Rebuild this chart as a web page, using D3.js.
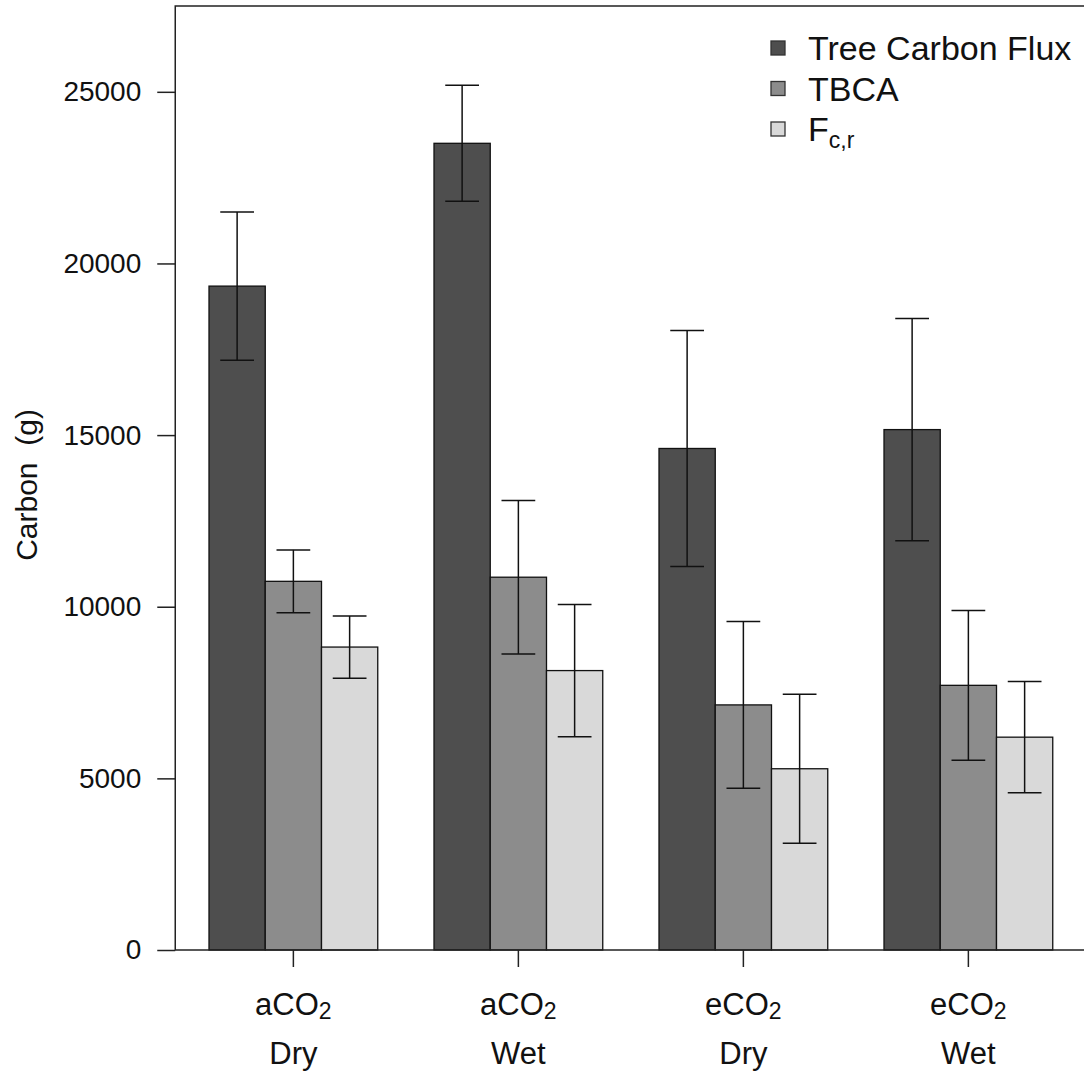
<!DOCTYPE html>
<html>
<head>
<meta charset="utf-8">
<script src="https://cdn.jsdelivr.net/npm/d3@7"></script>
<style>
  html, body { margin: 0; padding: 0; background: #fff; }
  svg { display: block; font-family: "Liberation Sans", Arial, Helvetica, sans-serif; }
</style>
</head>
<body>
<svg id="chart" width="1084" height="1074"></svg>
<script>
// Treatment groups: CO2 level prefix (line 1) and water regime (line 2)
const co2Prefix = ["a", "a", "e", "e"];
const waterRegime = ["Dry", "Wet", "Dry", "Wet"];

// Series names and colours
const seriesNames = ["Tree Carbon Flux", "TBCA", "Fc,r"];
const seriesColors = ["#4e4e4e", "#8c8c8c", "#d9d9d9"];

// Means and standard errors (g C) per treatment group
const treeFlux   = [19340, 23500, 14610, 15160];
const treeFluxSE = [2160, 1690, 3440, 3240];
const tbca       = [10740, 10860, 7140, 7710];
const tbcaSE     = [915, 2235, 2430, 2180];
const fcr        = [8825, 8140, 5280, 6200];
const fcrSE      = [905, 1925, 2170, 1620];

// Y axis ticks
const yTicks = [0, 5000, 10000, 15000, 20000, 25000];

const means = [treeFlux, tbca, fcr];
const errors = [treeFluxSE, tbcaSE, fcrSE];

const svg = d3.select("#chart");

// Bar-unit scale: each group has a one-bar gap before its three bars
const x = d3.scaleLinear().domain([0.4, 16.6]).range([175.25, 1086.5]);
const y = d3.scaleLinear().domain([0, 27500]).range([950, 6]);
const unit = x(1) - x(0);

const bars = [];
co2Prefix.forEach((_, g) => {
  means.forEach((series, s) => {
    const left = g * 4 + 1 + s;
    bars.push({ g, s, left, mid: left + 0.5, value: series[g], se: errors[s][g] });
  });
});

// Bars
svg.append("g").selectAll("rect")
  .data(bars)
  .enter().append("rect")
  .attr("x", d => x(d.left))
  .attr("y", d => y(d.value))
  .attr("width", unit)
  .attr("height", d => y(0) - y(d.value))
  .attr("fill", d => seriesColors[d.s])
  .attr("stroke", "#111")
  .attr("stroke-width", 1.3);

// Error bars
const eb = svg.append("g").attr("stroke", "#111").attr("stroke-width", 1.5).attr("fill", "none");
bars.forEach(d => {
  const cx = x(d.mid);
  const hw = x(d.mid + 0.3) - cx;
  eb.append("line").attr("x1", cx).attr("x2", cx).attr("y1", y(d.value + d.se)).attr("y2", y(d.value - d.se));
  eb.append("line").attr("x1", cx - hw).attr("x2", cx + hw).attr("y1", y(d.value + d.se)).attr("y2", y(d.value + d.se));
  eb.append("line").attr("x1", cx - hw).attr("x2", cx + hw).attr("y1", y(d.value - d.se)).attr("y2", y(d.value - d.se));
});

// Plot frame
svg.append("rect")
  .attr("x", x(0.4)).attr("y", y(27500))
  .attr("width", x(16.6) - x(0.4)).attr("height", y(0) - y(27500))
  .attr("fill", "none").attr("stroke", "#222").attr("stroke-width", 1.5);

// Y axis
const yAxis = svg.append("g")
  .attr("transform", `translate(${x(0.4)},0)`)
  .call(d3.axisLeft(y).tickValues(yTicks).tickFormat(d3.format("d")).tickSize(18).tickPadding(16));
yAxis.select(".domain").remove();
yAxis.selectAll(".tick line").attr("stroke", "#222").attr("stroke-width", 1.5);
yAxis.selectAll(".tick text").attr("font-size", 28).attr("fill", "#111")
  .attr("font-family", "'Liberation Sans', Arial, sans-serif");

// X axis ticks at group centres
const groupCentres = co2Prefix.map((_, g) => g * 4 + 2.5);
const xAxis = svg.append("g").attr("transform", `translate(0,${y(0)})`);
groupCentres.forEach((c, g) => {
  xAxis.append("line").attr("x1", x(c)).attr("x2", x(c)).attr("y1", 0).attr("y2", 17)
    .attr("stroke", "#222").attr("stroke-width", 1.5);
  const t1 = xAxis.append("text").attr("x", x(c)).attr("y", 65)
    .attr("text-anchor", "middle").attr("font-size", 31).attr("fill", "#111");
  t1.append("tspan").text(co2Prefix[g] + "CO");
  t1.append("tspan").attr("font-size", 23).attr("dy", 4).text("2");
  xAxis.append("text").attr("x", x(c)).attr("y", 114)
    .attr("text-anchor", "middle").attr("font-size", 31).attr("fill", "#111")
    .text(waterRegime[g]);
});

// Y axis title (two spaces kept between words)
svg.append("text")
  .attr("transform", `translate(37,485) rotate(-90)`)
  .attr("text-anchor", "middle").attr("font-size", 30).attr("fill", "#111")
  .style("white-space", "pre")
  .text("Carbon\u00a0\u00a0(g)");

// Legend
const legend = svg.append("g");
const legendY = [48, 88.5, 129];
seriesNames.forEach((name, i) => {
  legend.append("rect")
    .attr("x", 771).attr("y", legendY[i] - 7)
    .attr("width", 14).attr("height", 14)
    .attr("fill", seriesColors[i]).attr("stroke", "#333").attr("stroke-width", 1.3);
  const t = legend.append("text").attr("x", 808).attr("y", legendY[i] + 12)
    .attr("font-size", 34).attr("fill", "#111");
  if (name === "Fc,r") {
    t.append("tspan").text("F");
    t.append("tspan").attr("font-size", 23).attr("dy", 7).text("c,r");
  } else {
    t.text(name);
  }
});
</script>
</body>
</html>
